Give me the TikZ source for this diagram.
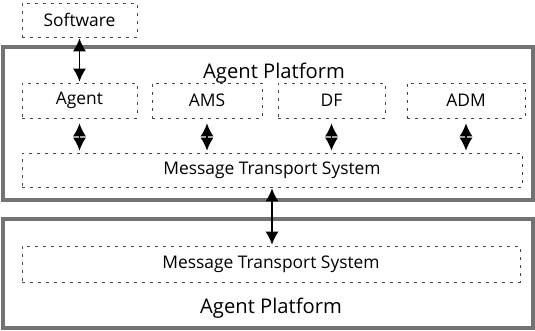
\documentclass[tikz,border=0pt]{standalone}
\usepackage{fontspec}
\setmainfont{Open Sans}
\usetikzlibrary{arrows.meta,positioning}
\definecolor{platgrey}{RGB}{115,115,115}
\definecolor{dashgrey}{RGB}{70,70,70}
\tikzset{
  platform/.style={draw=platgrey,line width=3.2pt,fill=none,inner sep=0pt},
  comp/.style={draw=dashgrey,dash pattern=on 3pt off 5pt,line width=.6pt,
               inner sep=0pt,minimum height=35pt,font=\fontsize{17.4}{20}\selectfont},
  ptitle/.style={inner sep=0pt,font=\fontsize{20.2}{24}\selectfont},
  link/.style={{Latex[length=13pt,width=13pt]}-{Latex[length=13pt,width=13pt]},
               line width=1.6pt,shorten <=1pt,shorten >=1pt},
}
\begin{document}
\begin{tikzpicture}[x=1pt,y=-1pt]
  \useasboundingbox (0,0) rectangle (535,331);
  % upper platform
  \node[platform,minimum width=530pt,minimum height=153pt] (plat1) at (268,123.5) {};
  \node[ptitle] (title1) at (274,73) {Agent Platform};
  \node[comp,minimum width=115pt,minimum height=34pt] (sw) at (79.5,20) {Software};
  \node[comp,minimum width=115pt] (agent) at (79.5,100.5) {Agent};
  \node[comp,minimum width=110pt] (ams) at (207,100.5) {AMS};
  \node[comp,minimum width=107pt] (df) at (331.5,100.5) {DF};
  \node[comp,minimum width=118pt] (adm) at (466,100.5) {ADM};
  \node[comp,minimum width=500pt,minimum height=34pt] (mts1) at (272,170) {Message Transport System};
  % lower platform
  \node[platform,minimum width=530pt,minimum height=109pt] (plat2) at (268,273.5) {};
  \node[comp,minimum width=498pt,minimum height=36pt] (mts2) at (271,264) {Message Transport System};
  \node[ptitle] (title2) at (271,308) {Agent Platform};
  % connections
  \draw[link] (sw.south) -- (agent.north);
  \foreach \c in {agent,ams,df,adm}
    \draw[link,shorten <=5pt,shorten >=2pt] (\c.south) -- (\c.south |- mts1.north);
  \draw[link] (mts1.south) -- (mts1.south |- mts2.north);
\end{tikzpicture}
\end{document}
